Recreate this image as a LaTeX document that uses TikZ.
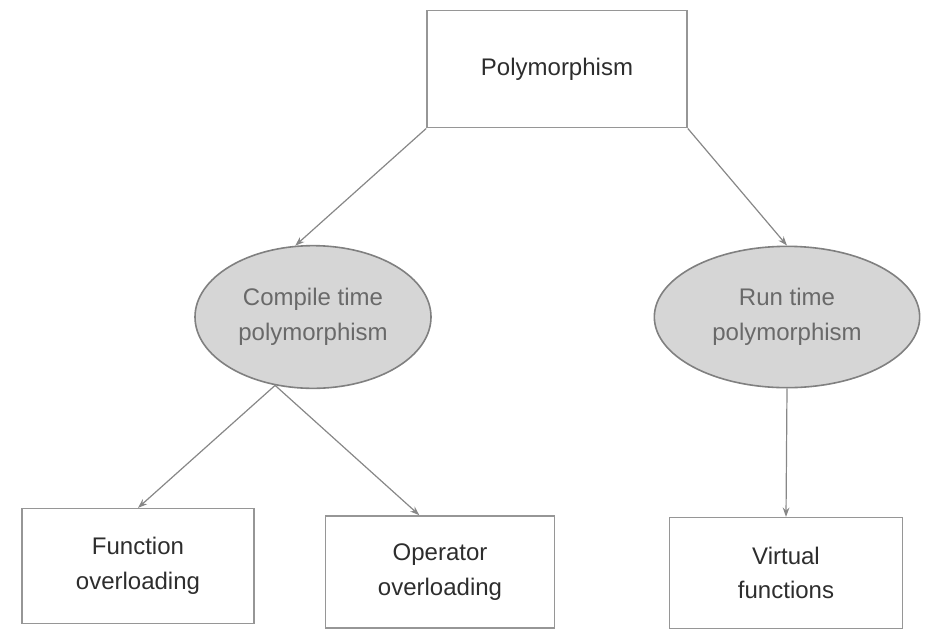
\documentclass[tikz,border=0pt]{standalone}
\usepackage{fontspec}
\setmainfont{Liberation Sans}
\usetikzlibrary{shapes.geometric,arrows.meta}
\definecolor{edgegray}{RGB}{150,150,150}
\definecolor{ovalfill}{RGB}{214,214,214}
\definecolor{ovaltext}{RGB}{105,105,105}
\definecolor{boxtext}{RGB}{45,45,45}
\begin{document}
\begin{tikzpicture}[x=0.75pt, y=-0.75pt,
  box/.style={rectangle, draw=edgegray, line width=1.2pt, text=boxtext, align=center,
    font=\fontsize{18}{26}\selectfont, inner sep=0pt},
  oval/.style={ellipse, draw=edgegray!85!black, fill=ovalfill, line width=1.2pt, text=ovaltext,
    align=center, font=\fontsize{18}{26}\selectfont, inner sep=0pt},
  link/.style={draw=edgegray!90!black, line width=0.9pt, -{Stealth[length=7pt,width=5pt]}}]
\useasboundingbox (0,0) rectangle (928,637);
% top
\node [box, minimum width=195pt, minimum height=88pt] (poly) at (557,69) {Polymorphism};
% middle level
\node [oval, minimum width=177pt, minimum height=107pt] (cpoly) at (313,317) {Compile time\\polymorphism};
\node [oval, minimum width=199pt, minimum height=106pt] (rpoly) at (787,317) {Run time\\polymorphism};
% leaves
\node [box, minimum width=174pt, minimum height=86pt] (fun) at (138,566) {Function\\overloading};
\node [box, minimum width=172pt, minimum height=84pt] (opr) at (440,572) {Operator\\overloading};
\node [box, minimum width=175pt, minimum height=83pt] (vir) at (786,573) {Virtual\\functions};
% connectors
\draw [link] (poly.south west) -- (cpoly.104);
\draw [link] (poly.south east) -- (rpoly.north);
\draw [link] (cpoly.241) -- (fun.north);
\draw [link] (cpoly.241) -- (opr.110);
\draw [link] (rpoly.south) -- (vir.north);
\end{tikzpicture}
\end{document}
